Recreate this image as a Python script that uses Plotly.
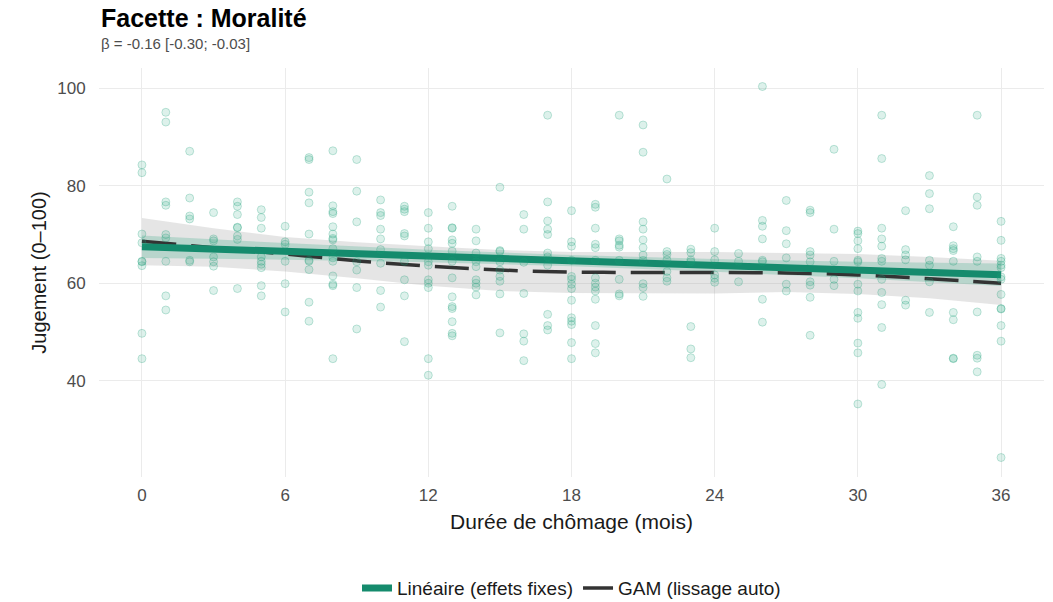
import plotly.graph_objects as go

# ---- data ----
values_by_month = [
    [84.3, 82.7, 70.1, 68.3, 64.5, 64.4, 63.6, 49.7, 44.5],
    [95.1, 93.1, 76.7, 76.0, 70.0, 69.3, 64.5, 57.4, 54.5],
    [87.1, 77.5, 73.8, 73.2, 64.7, 64.4],
    [74.5, 69.1, 68.7, 65.4, 64.4, 63.5, 58.5],
    [76.7, 75.8, 74.1, 71.5, 71.4, 69.7, 69.0, 58.9],
    [75.1, 73.5, 71.3, 65.4, 64.5, 63.9, 63.2, 59.5, 57.4],
    [71.7, 68.5, 68.0, 64.5, 59.9, 54.1],
    [85.8, 85.4, 78.7, 76.5, 70.1, 64.7, 64.5, 62.8, 56.1, 52.2],
    [87.2, 75.9, 74.7, 74.3, 71.6, 70.1, 69.2, 68.9, 67.1, 65.2, 64.5, 61.5, 59.8, 59.5, 44.5],
    [85.4, 78.9, 72.6, 64.4, 62.7, 59.1, 50.6],
    [77.1, 74.5, 73.9, 71.1, 69.1, 66.9, 64.1, 58.5, 55.1],
    [75.8, 75.2, 74.7, 70.2, 69.7, 64.5, 60.7, 57.4, 48.0],
    [74.5, 71.3, 68.5, 67.1, 64.4, 63.7, 60.7, 60.0, 59.1, 44.5, 41.1],
    [75.8, 71.4, 71.3, 68.9, 68.2, 66.6, 64.5, 61.1, 57.2, 55.2, 54.8, 52.1, 49.7, 49.2],
    [71.1, 68.7, 66.2, 64.4, 63.4, 60.7, 60.0, 59.2, 57.6],
    [79.7, 66.7, 66.5, 64.4, 62.7, 61.4, 60.4, 57.8, 49.8],
    [74.1, 71.1, 64.3, 57.9, 49.6, 48.1, 44.1],
    [94.5, 76.7, 72.8, 71.1, 70.0, 66.2, 65.4, 63.7, 53.6, 51.3, 50.4],
    [74.9, 68.5, 67.6, 64.7, 61.4, 60.8, 59.8, 58.9, 56.5, 52.9, 52.2, 51.5, 47.8, 44.5],
    [76.2, 75.6, 71.3, 68.0, 67.3, 64.7, 61.1, 60.0, 59.2, 58.4, 56.7, 51.3, 47.6, 45.7],
    [94.5, 69.1, 68.7, 67.8, 67.4, 64.7, 60.8, 57.8, 57.4],
    [92.5, 86.9, 72.6, 71.1, 68.9, 67.3, 65.8, 64.7, 59.9, 59.1, 57.3],
    [81.4, 66.5, 65.9, 64.8, 62.4, 61.1, 60.4],
    [67.0, 66.3, 64.8, 64.4, 51.1, 46.5, 44.7],
    [71.3, 66.5, 64.8, 61.7, 61.0, 60.2],
    [66.1, 64.5, 60.3],
    [100.4, 72.9, 71.7, 69.1, 64.7, 64.4, 56.7, 52.0],
    [77.0, 70.8, 68.1, 65.2, 59.8, 58.4],
    [75.0, 74.5, 66.5, 65.8, 64.4, 60.3, 59.6, 57.1, 49.3],
    [87.5, 71.1, 64.5, 60.8, 59.5],
    [70.7, 70.2, 68.7, 67.1, 64.7, 64.4, 59.8, 58.4, 54.0, 52.8, 47.7, 45.7, 35.2],
    [94.5, 85.6, 71.3, 69.1, 67.6, 65.1, 64.5, 60.8, 58.1, 55.6, 50.9, 39.2],
    [74.9, 66.9, 65.8, 64.8, 56.5, 55.5],
    [82.1, 78.4, 75.3, 64.7, 63.7, 60.3, 54.0],
    [71.6, 67.7, 67.1, 66.7, 64.5, 54.0, 52.5, 44.6, 44.5],
    [94.5, 77.7, 76.0, 65.4, 64.5, 54.1, 45.2, 44.6, 41.8],
    [72.7, 68.8, 65.1, 64.5, 63.7, 63.2, 61.3, 60.8, 57.7, 54.8, 54.7, 51.3, 48.1, 24.2],
]

lin_x = [0, 6, 12, 18, 24, 30, 36]
lin_fit = [67.5, 66.54, 65.58, 64.62, 63.66, 62.7, 61.74]
lin_upper = [69.8, 68.24, 66.88, 65.77, 64.96, 64.4, 64.04]
lin_lower = [65.2, 64.84, 64.28, 63.47, 62.36, 61.0, 59.44]

gam_x = [0, 3, 6, 9, 12, 15, 18, 21, 24, 27, 30, 33, 36]
gam_fit = [68.6, 67.3, 66.0, 64.6, 63.5, 62.7, 62.3, 62.2, 62.2, 62.1, 61.7, 60.9, 60.0]
gam_upper = [73.4, 71.3, 69.5, 68.4, 67.6, 66.8, 66.4, 66.4, 66.4, 66.2, 66.0, 65.4, 64.6]
gam_lower = [63.7, 63.4, 62.4, 61.0, 59.5, 58.4, 58.0, 57.9, 57.9, 58.2, 57.8, 56.9, 55.5]

x_ticks = [0, 6, 12, 18, 24, 30, 36]
y_ticks = [40, 60, 80, 100]

title_text = "Facette : Moralité"
subtitle_text = "β = -0.16 [-0.30; -0.03]"
x_title = "Durée de chômage (mois)"
y_title = "Jugement (0–100)"
lin_name = "Linéaire (effets fixes)"
gam_name = "GAM (lissage auto)"

pts_x = [m for m, vals in enumerate(values_by_month) for _ in vals]
pts_y = [v for vals in values_by_month for v in vals]

GREEN = "#158B6D"
FONT = "Liberation Sans, Arial, sans-serif"

fig = go.Figure()

# GAM band (grey)
fig.add_trace(go.Scatter(x=gam_x + gam_x[::-1], y=gam_upper + gam_lower[::-1],
                         fill="toself", fillcolor="rgba(153,153,153,0.26)",
                         line=dict(width=0), mode="lines", showlegend=False, hoverinfo="skip"))
# linear band (green)
fig.add_trace(go.Scatter(x=lin_x + lin_x[::-1], y=lin_upper + lin_lower[::-1],
                         fill="toself", fillcolor="rgba(27,158,119,0.22)",
                         line=dict(width=0), mode="lines", showlegend=False, hoverinfo="skip"))
# GAM dashed line
fig.add_trace(go.Scatter(x=gam_x, y=gam_fit, mode="lines", name=gam_name,
                         line=dict(color="#333333", width=3.5, dash="34px,15px", shape="spline"),
                         legendrank=2))
# linear line
fig.add_trace(go.Scatter(x=[lin_x[0], lin_x[-1]], y=[lin_fit[0], lin_fit[-1]], mode="lines",
                         name=lin_name, line=dict(color=GREEN, width=7), legendrank=1))
# points
fig.add_trace(go.Scatter(x=pts_x, y=pts_y, mode="markers", showlegend=False,
                         marker=dict(size=8, color="rgba(27,158,119,0.15)",
                                     line=dict(color="rgba(27,158,119,0.26)", width=1))))

fig.update_layout(
    width=1053, height=602,
    margin=dict(l=99, r=9, t=68, b=125, autoexpand=False),
    paper_bgcolor="white", plot_bgcolor="white",
    font=dict(family=FONT, color="#4d4d4d", size=17),
    showlegend=True,
    legend=dict(orientation="h", x=0.5, xanchor="center", yref="container", y=0.023,
                yanchor="middle", font=dict(size=19, color="#1a1a1a"), itemwidth=30,
                traceorder="normal"),
    xaxis=dict(range=[-1.8, 37.8], tickvals=x_ticks, showgrid=True, gridcolor="#ebebeb",
               gridwidth=1.2, zeroline=False, showline=False, ticks="outside", ticklen=3,
               tickcolor="rgba(0,0,0,0)", tickfont=dict(size=17, color="#4d4d4d"),
               automargin=False,
               title=dict(text=x_title, font=dict(size=21, color="#1a1a1a"), standoff=9)),
    yaxis=dict(range=[20.2, 104.2], tickvals=y_ticks, showgrid=True, gridcolor="#ebebeb",
               gridwidth=1.2, zeroline=False, showline=False, ticks="outside", ticklen=9,
               tickcolor="rgba(0,0,0,0)", tickfont=dict(size=17, color="#4d4d4d"),
               automargin=False,
               title=dict(text=y_title, font=dict(size=20, color="#1a1a1a"), standoff=5)),
    annotations=[
        dict(text="<b>" + title_text + "</b>", xref="paper", yref="paper", x=0, y=1.122,
             xanchor="left", yanchor="middle", showarrow=False,
             font=dict(size=25, color="#000000", family=FONT)),
        dict(text=subtitle_text, xref="paper", yref="paper", x=0, y=1.0587,
             xanchor="left", yanchor="middle", showarrow=False,
             font=dict(size=15, color="#4d4d4d", family=FONT)),
    ],
)

fig.write_html("out.html", config={"displayModeBar": False},
               post_script="document.body.style.margin='0';")
